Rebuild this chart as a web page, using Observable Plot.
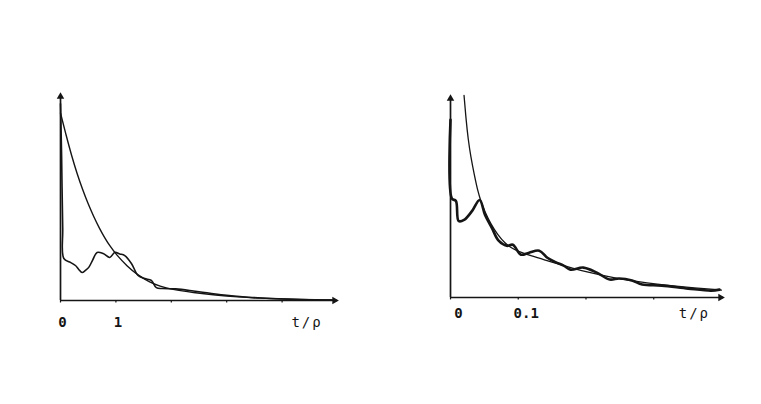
<!DOCTYPE html>
<html><head><meta charset="utf-8">
<script src="https://cdn.jsdelivr.net/npm/d3@7"></script>
<script src="https://cdn.jsdelivr.net/npm/@observablehq/plot@0.6"></script>
<style>
html,body{margin:0;padding:0;background:#fff;}
#wrap{position:relative;width:761px;height:404px;overflow:hidden;background:#fff;}
.panel{position:absolute;top:0;}
.unitlab text{letter-spacing:2px;}
</style></head><body>
<div id="wrap"><div id="p1" class="panel" style="left:0"></div><div id="p2" class="panel" style="left:380px"></div></div>
<script>
// Left panel (t/ρ from 0 to ~5)
const leftSmoothT = [0,0.1,0.2,0.3,0.4,0.5,0.6,0.7,0.8,0.9,1.0,1.2,1.4,1.6,1.8,2.0,2.4,2.8,3.2,3.6,4.0,4.5,4.95];
const leftSmoothV = [0.905,0.80,0.70,0.612,0.535,0.466,0.405,0.350,0.302,0.260,0.224,0.166,0.122,0.090,0.068,0.054,0.038,0.026,0.017,0.011,0.007,0.004,0.002];
const leftNoisyT = [0,0.02,0.04,0.06,0.18,0.27,0.33,0.39,0.45,0.51,0.58,0.66,0.77,0.89,0.98,1.07,1.16,1.28,1.40,1.52,1.64,1.73,1.84,2.08,2.4,2.7,3.0,3.4,3.8,4.2,4.6,4.9];
const leftNoisyV = [0.95,0.70,0.35,0.203,0.184,0.169,0.15,0.135,0.145,0.16,0.195,0.232,0.227,0.208,0.232,0.225,0.217,0.179,0.121,0.106,0.097,0.062,0.058,0.056,0.046,0.035,0.025,0.016,0.010,0.006,0.003,0.002];
const leftTicks = [0,1,2,3,4];
const leftTickLabels = ["0","1","","",""];
const leftUnitLabel = "t/ρ";

// Right panel (t/ρ from 0 to ~0.4)
const rightSmoothT = [0.020,0.023,0.026,0.030,0.035,0.040,0.045,0.050,0.060,0.070,0.080,0.090,0.100,0.120,0.140,0.160,0.180,0.200,0.230,0.260,0.290,0.320,0.360,0.400];
const rightSmoothV = [1.0,0.88,0.785,0.695,0.61,0.53,0.475,0.43,0.36,0.31,0.27,0.245,0.228,0.205,0.185,0.165,0.145,0.127,0.105,0.087,0.072,0.060,0.047,0.037];
const rightNoisyT = [0,0.002,0.008,0.012,0.020,0.032,0.043,0.051,0.061,0.071,0.083,0.092,0.104,0.116,0.131,0.143,0.155,0.167,0.177,0.196,0.216,0.235,0.249,0.268,0.283,0.312,0.351,0.385,0.397];
const rightNoisyV = [0.88,0.49,0.478,0.379,0.384,0.429,0.483,0.409,0.345,0.281,0.256,0.261,0.212,0.222,0.232,0.197,0.175,0.158,0.138,0.148,0.123,0.089,0.094,0.084,0.064,0.059,0.044,0.034,0.039];
const rightTicks = [0,0.1,0.2,0.3];
const rightTickLabels = ["0","0.1","",""];
const rightUnitLabel = "t/ρ";

const ink = "#151515";
const font = "DejaVu Sans Mono";

function zip(T, V) { return T.map((t, i) => ({t, v: V[i]})); }

function panel(opts) {
  const {smooth, noisy, ticks, tickLabels, unit, unitX, xMax, xRange, yRange, labelDy, labelDx, smoothW, noisyW} = opts;
  return Plot.plot({
    width: 380, height: 404,
    margin: 0,
    style: {background: "transparent", fontFamily: font, fontSize: "14px", color: ink},
    x: {domain: [0, xMax], range: xRange, axis: null},
    y: {domain: [0, 1], range: yRange, axis: null},
    marks: [
      Plot.ruleY([0], {x1: 0, x2: xMax, stroke: ink, strokeWidth: 1.6}),
      Plot.ruleX([0], {y1: 0, y2: 0.985, stroke: ink, strokeWidth: 1.7}),
      Plot.ruleX(ticks, {x: d => d, y1: 0, y2: -0.012, stroke: ink, strokeWidth: 1.2}),
      Plot.dot([{x: 0, y: 1}], {x: "x", y: "y", symbol: "triangle2", r: 3.6, fill: ink, stroke: "none", dy: 3}),
      Plot.dot([{x: xMax, y: 0}], {x: "x", y: "y", symbol: "triangle2", r: 3.6, fill: ink, stroke: "none", rotate: 90, dx: -3}),
      Plot.line(smooth, {x: "t", y: "v", stroke: ink, strokeWidth: smoothW, curve: "basis"}),
      Plot.line(noisy, {x: "t", y: "v", stroke: ink, strokeWidth: noisyW, curve: "catmull-rom"}),
      Plot.text(ticks.map((t, i) => ({t, s: tickLabels[i]})).filter(d => d.s), {x: "t", y: () => 0, text: "s", dy: labelDy, dx: labelDx, fill: ink, fontSize: 14, fontWeight: "bold"}),
      Plot.text([{t: unitX, s: unit}], {x: "t", y: () => 0, text: "s", dy: labelDy, fill: ink, fontSize: 14, className: "unitlab"})
    ]
  });
}

document.getElementById("p1").appendChild(panel({
  smooth: zip(leftSmoothT, leftSmoothV), noisy: zip(leftNoisyT, leftNoisyV),
  ticks: leftTicks, tickLabels: leftTickLabels, unit: leftUnitLabel, unitX: 4.45,
  xMax: 5.0, xRange: [60, 337], yRange: [300, 93], labelDy: 22, labelDx: 2, smoothW: 1.4, noisyW: 1.6
}));
document.getElementById("p2").appendChild(panel({
  smooth: zip(rightSmoothT, rightSmoothV), noisy: zip(rightNoisyT, rightNoisyV),
  ticks: rightTicks, tickLabels: rightTickLabels, unit: rightUnitLabel, unitX: 0.36,
  xMax: 0.403, xRange: [70, 343], yRange: [297, 95], labelDy: 16, labelDx: 8, smoothW: 1.3, noisyW: 2.6
}));
</script></body></html>
